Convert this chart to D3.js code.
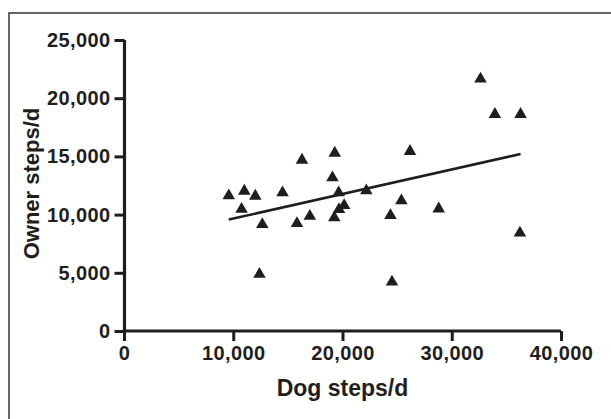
<!DOCTYPE html>
<html><head><meta charset="utf-8">
<script src="https://cdn.jsdelivr.net/npm/d3@7"></script>
<style>
html,body{margin:0;padding:0;background:#fff;overflow:hidden;}
svg{display:block;font-family:"Liberation Sans",Arial,sans-serif;}
</style></head>
<body><svg id="c" width="611" height="419"></svg>
<script>
const dogSteps = [9590,11010,10760,12020,12660,12400,14510,15830,16290,17010,19290,19080,19250,19650,19680,20150,22180,24390,24530,25390,26180,28810,32630,33950,36300,36240];
const ownerSteps = [11620,12020,10470,11590,9160,4880,11880,9240,14690,9870,15290,13170,9730,11880,10450,10790,12050,9930,4220,11190,15440,10500,21660,18620,18620,8430];
const fitX = [9590,36300];
const fitY = [9570,15200];
const xTicks = [0,10000,20000,30000,40000];
const yTicks = [0,5000,10000,15000,20000,25000];
const xTitle = "Dog steps/d";
const yTitle = "Owner steps/d";

const svg = d3.select("#c");
const ink = "#1e1e1e";
const x = d3.scaleLinear().domain([0,40000]).range([124,561]);
const y = d3.scaleLinear().domain([0,25000]).range([331,40]);
const fmt = d3.format(",");

// frame (only top and left edges fall inside the picture)
svg.append("path").attr("d","M9,419V13H611").attr("fill","none").attr("stroke","#333").attr("stroke-width",1.5);

// axes
const xa = svg.append("g").attr("transform","translate(0,331)")
  .call(d3.axisBottom(x).tickValues(xTicks).tickFormat(fmt).tickSize(10).tickSizeOuter(0).tickPadding(5));
const ya = svg.append("g").attr("transform","translate(124.5,0)")
  .call(d3.axisLeft(y).tickValues(yTicks).tickFormat(fmt).tickSize(10).tickSizeOuter(0).tickPadding(4));
[xa,ya].forEach(g=>{
  g.attr("font-size",20).attr("font-family","'Liberation Sans',Arial,sans-serif").attr("font-weight","bold");
  g.select(".domain").attr("stroke",ink).attr("stroke-width",3.2);
  g.selectAll(".tick line").attr("stroke",ink).attr("stroke-width",3);
  g.selectAll(".tick text").attr("fill",ink).style("font-size","20px").style("font-weight","bold")
    .style("letter-spacing","0.4px");
});
xa.select(".domain").attr("d","M124,0H561");
ya.select(".domain").attr("d","M0,"+y(25000)+"V"+(y(0)+2));

// titles
svg.append("text").attr("x",(x(0)+x(40000))/2).attr("y",396).attr("text-anchor","middle")
  .style("font-size","23px").style("font-weight","bold").attr("fill",ink).text(xTitle);
svg.append("text").attr("transform","translate(39,"+((y(0)+y(25000))/2 - 2)+") rotate(-90)")
  .attr("text-anchor","middle").style("font-size","22px").style("font-weight","bold").attr("fill",ink).text(yTitle);

// regression line
svg.append("line").attr("x1",x(fitX[0])).attr("y1",y(fitY[0])).attr("x2",x(fitX[1])).attr("y2",y(fitY[1]))
  .attr("stroke",ink).attr("stroke-width",2.6);

// points
const tri = d3.symbol().type(d3.symbolTriangle).size(68);
svg.append("g").selectAll("path").data(dogSteps.map((d,i)=>[d,ownerSteps[i]])).join("path")
  .attr("d",tri).attr("transform",d=>`translate(${x(d[0])},${y(d[1])})`).attr("fill",ink);
</script></body></html>
